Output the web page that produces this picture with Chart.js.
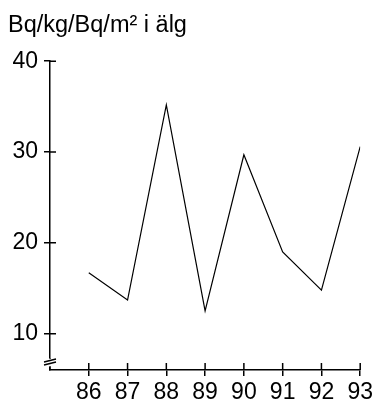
<!DOCTYPE html>
<html>
<head>
<meta charset="utf-8">
<script src="https://cdn.jsdelivr.net/npm/chart.js@4"></script>
<style>
  html, body { margin: 0; padding: 0; background: #fff; }
  #wrap { width: 376px; height: 403px; }
</style>
</head>
<body>
<div id="wrap"><canvas id="myChart"></canvas></div>
<script>
// values
var years = [86, 87, 88, 89, 90, 91, 92, 93];
var values = [16.7, 13.7, 35.2, 12.5, 29.7, 19.0, 14.8, 30.6];
var yTicks = [10, 20, 30, 40];
var unit = 'Bq/kg/Bq/m\u00B2 i \u00E4lg';

var font = 'Liberation Sans, Arial, sans-serif';
var points = [];
for (let i in years) {
  points[i] = { x: years[i], y: values[i] };
}

// ticks cross the axis, plus the little break mark at the bottom of y
var crossTicks = {
  id: 'crossTicks',
  afterDraw(chart) {
    var ctx = chart.ctx;
    var xs = chart.scales.x, ys = chart.scales.y;
    var left = chart.chartArea.left, bottom = chart.chartArea.bottom;
    ctx.save();
    ctx.strokeStyle = '#000';
    ctx.lineWidth = 1.5;
    ctx.beginPath();
    for (let t of ys.ticks) {
      var py = ys.getPixelForValue(t.value);
      ctx.moveTo(left, py);
      ctx.lineTo(left + 6, py);
    }
    for (let t of xs.ticks) {
      var px = xs.getPixelForValue(t.value);
      ctx.moveTo(px, bottom);
      ctx.lineTo(px, bottom - 7);
    }
    ctx.stroke();
    // axis break
    ctx.fillStyle = '#fff';
    ctx.fillRect(left - 2, bottom - 12, 4, 9);
    ctx.lineWidth = 1.3;
    ctx.beginPath();
    ctx.moveTo(left, bottom - 12);
    ctx.lineTo(left, bottom - 11);
    ctx.moveTo(left - 6, bottom - 8);
    ctx.lineTo(left + 6, bottom - 11);
    ctx.moveTo(left - 6, bottom - 5);
    ctx.lineTo(left + 6, bottom - 8);
    ctx.moveTo(left, bottom - 4);
    ctx.lineTo(left, bottom);
    ctx.stroke();
    ctx.restore();
  }
};

const myChart = new Chart('myChart', {
  type: 'line',
  data: {
    datasets: [{
      data: points,
      borderColor: '#000',
      borderWidth: 1.2,
      pointRadius: 0,
      tension: 0,
      fill: false
    }]
  },
  plugins: [crossTicks],
  options: {
    responsive: true,
    maintainAspectRatio: false,
    animation: false,
    layout: { padding: { left: 8, right: 14, top: 0, bottom: 0 } },
    plugins: {
      legend: { display: false },
      tooltip: { enabled: false },
      title: {
        display: true,
        text: unit,
        align: 'start',
        color: '#000',
        font: { family: font, size: 23.5, weight: 'normal', lineHeight: 1.2 },
        padding: { top: 11, bottom: 22 }
      }
    },
    scales: {
      x: {
        type: 'linear',
        min: 85,
        max: 93,
        afterBuildTicks(scale) {
          scale.ticks = years.map(v => ({ value: v }));
        },
        afterFit(scale) { scale.height = 33; },
        border: { color: '#000', width: 1.5 },
        grid: { drawOnChartArea: false, color: '#000', lineWidth: 1.5, tickLength: 6 },
        ticks: {
          color: '#000',
          padding: 3,
          maxRotation: 0,
          font: { family: font, size: 23 },
          callback: v => String(v)
        }
      },
      y: {
        min: 6,
        max: 40,
        afterBuildTicks(scale) {
          scale.ticks = yTicks.map(v => ({ value: v }));
        },
        afterFit(scale) { scale.width = 42; },
        border: { color: '#000', width: 1.5 },
        grid: { drawOnChartArea: false, color: '#000', lineWidth: 1.5, tickLength: 6 },
        ticks: {
          color: '#000',
          padding: 6,
          font: { family: font, size: 23 },
          callback: v => String(v)
        }
      }
    }
  }
});
</script>
</body>
</html>
